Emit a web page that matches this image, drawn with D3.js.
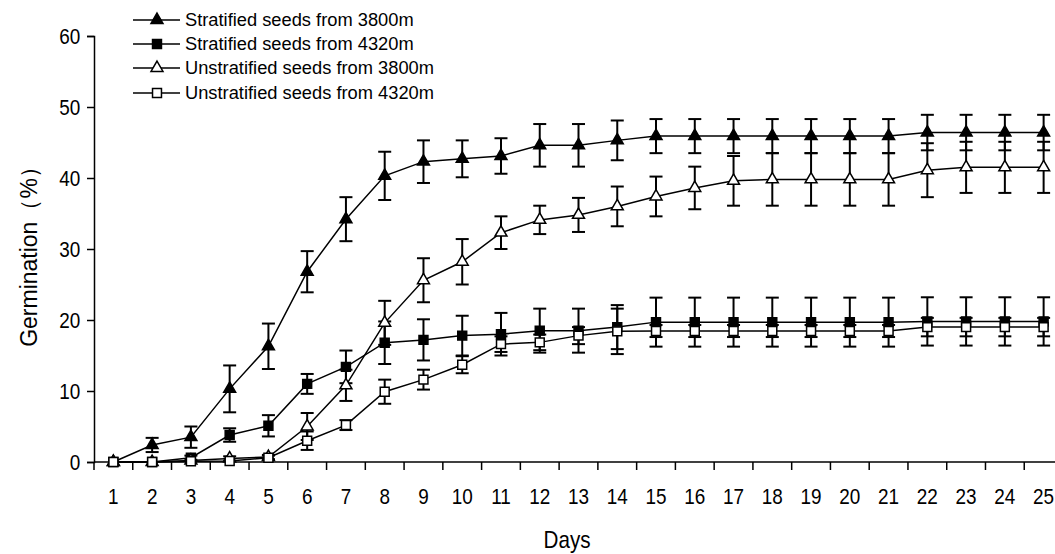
<!DOCTYPE html>
<html>
<head>
<meta charset="utf-8">
<script src="https://cdn.jsdelivr.net/npm/d3@7"></script>
<style>
  html, body { margin: 0; padding: 0; background: #fff; }
  svg { display: block; }
  text { font-family: "Liberation Sans", Arial, sans-serif; fill: #000; }
</style>
</head>
<body>
<svg id="chart" width="1055" height="554"></svg>
<script>
// ---- data ----
const days = d3.range(1, 26);
const yTicks = [0, 10, 20, 30, 40, 50, 60];

const seriesNames = [
  "Stratified seeds from 3800m",
  "Stratified seeds from 4320m",
  "Unstratified seeds from 3800m",
  "Unstratified seeds from 4320m"
];

const strat3800 = [0, 2.4, 3.5, 10.3, 16.3, 26.8, 34.2, 40.3, 42.3, 42.7, 43.1, 44.6, 44.6, 45.3, 45.9, 45.9, 45.9, 45.9, 45.9, 45.9, 45.9, 46.4, 46.4, 46.4, 46.4];
const strat3800Err = [0, 1.0, 1.5, 3.3, 3.2, 2.9, 3.1, 3.4, 3.0, 2.6, 2.5, 3.0, 3.0, 2.8, 2.4, 2.4, 2.4, 2.4, 2.4, 2.4, 2.4, 2.5, 2.5, 2.5, 2.5];

const strat4320 = [0, 0, 0.6, 3.8, 5.1, 11.0, 13.4, 16.8, 17.2, 17.8, 18.0, 18.5, 18.5, 19.0, 19.7, 19.7, 19.7, 19.7, 19.7, 19.7, 19.7, 19.8, 19.8, 19.8, 19.8];
const strat4320Err = [0, 0, 0.3, 0.95, 1.5, 1.4, 2.3, 3.0, 2.9, 2.8, 3.0, 3.1, 3.1, 3.1, 3.45, 3.45, 3.45, 3.45, 3.45, 3.45, 3.45, 3.4, 3.4, 3.4, 3.4];

const unstrat3800 = [0, 0, 0.2, 0.5, 0.7, 5.0, 10.8, 19.6, 25.6, 28.2, 32.3, 34.1, 34.8, 36.0, 37.4, 38.6, 39.6, 39.8, 39.8, 39.8, 39.8, 41.1, 41.5, 41.5, 41.5];
const unstrat3800Err = [0, 0, 0.2, 0.3, 0.3, 1.9, 2.2, 3.1, 3.1, 3.2, 2.3, 2.0, 2.4, 2.8, 2.8, 3.0, 3.5, 3.7, 3.7, 3.7, 3.7, 3.8, 3.6, 3.6, 3.6];

const unstrat4320 = [0, 0, 0.1, 0.15, 0.6, 3.0, 5.2, 9.9, 11.6, 13.7, 16.6, 16.85, 17.8, 18.4, 18.45, 18.45, 18.45, 18.45, 18.45, 18.45, 18.45, 19.0, 19.0, 19.0, 19.0];
const unstrat4320Err = [0, 0, 0, 0, 0.3, 1.3, 0.7, 1.7, 1.4, 1.2, 1.1, 1.1, 1.2, 3.2, 0.85, 0.85, 0.85, 0.85, 0.85, 0.85, 0.85, 1.3, 1.3, 1.3, 1.3];

const seriesValues = [strat3800, strat4320, unstrat3800, unstrat4320];
const seriesErrors = [strat3800Err, strat4320Err, unstrat3800Err, unstrat4320Err];
const seriesShapes = ["triangle", "square", "triangle", "square"];
const seriesFilled = [true, true, false, false];

// ---- layout ----
const svg = d3.select("#chart");
const plotLeft = 94, plotRight = 1063, plotTop = 36, plotBottom = 462;
const squeeze = 0.86; // axis text in the reference is taller than it is wide

const x = d3.scaleBand().domain(days).range([plotLeft, plotRight]).padding(0);
const xc = d => x(d) + x.bandwidth() / 2;
const y = d3.scaleLinear().domain([0, 60]).range([plotBottom, plotTop]);

// ---- axes ----
const yAxis = d3.axisLeft(y).tickValues(yTicks).tickSize(7).tickPadding(9);
const gy = svg.append("g").attr("transform", `translate(${plotLeft},0)`).call(yAxis);
gy.select(".domain").attr("stroke", "#000").attr("stroke-width", 1.5);
gy.selectAll(".tick line").attr("stroke", "#000").attr("stroke-width", 1.5);
gy.selectAll(".tick text")
  .style("font-size", "22px")
  .attr("font-family", "Liberation Sans, Arial, sans-serif")
  .attr("transform", `scale(${squeeze},1)`);

const xAxis = d3.axisBottom(x).tickSize(0).tickPadding(26);
const gx = svg.append("g").attr("transform", `translate(0,${plotBottom})`).call(xAxis);
gx.select(".domain").attr("stroke", "#000").attr("stroke-width", 1.5).attr("d", `M${plotLeft},0H${plotRight}`);
gx.selectAll(".tick text")
  .style("font-size", "22px")
  .attr("font-family", "Liberation Sans, Arial, sans-serif")
  .attr("transform", `scale(${squeeze},1)`);
// tick marks between categories
const boundaries = days.map(d => x(d)).concat([x(days[days.length - 1]) + x.bandwidth()]);
gx.selectAll("line.bt").data(boundaries).enter().append("line")
  .attr("class", "bt")
  .attr("x1", d => d).attr("x2", d => d)
  .attr("y1", 0).attr("y2", 8)
  .attr("stroke", "#000").attr("stroke-width", 1.5);

// axis titles
svg.append("text")
  .attr("transform", `translate(567,548) scale(${squeeze},1)`)
  .attr("text-anchor", "middle")
  .style("font-size", "24px")
  .text("Days");
svg.append("text")
  .attr("transform", `translate(37,251) rotate(-90)`)
  .attr("text-anchor", "middle")
  .style("font-size", "23px")
  .text("Germination（%）");

// ---- marks ----
const symTri = d3.symbol().type(d3.symbolTriangle).size(62);
const symSq = d3.symbol().type(d3.symbolSquare).size(80);
const line = d3.line().x((v, i) => xc(days[i])).y(v => y(v));

const plot = svg.append("g");
// lines
seriesValues.forEach(vals => {
  plot.append("path")
    .attr("d", line(vals))
    .attr("fill", "none")
    .attr("stroke", "#000")
    .attr("stroke-width", 1.5);
});
// error bars
const capW = 6.5;
seriesValues.forEach((vals, s) => {
  const errs = seriesErrors[s];
  const g = plot.append("g").attr("stroke", "#000").attr("stroke-width", 2);
  vals.forEach((v, i) => {
    const e = errs[i];
    if (!e || e < 0.25) return;
    const cx = xc(days[i]);
    const y1 = y(v + e), y2 = y(Math.max(0, v - e));
    g.append("line").attr("x1", cx).attr("x2", cx).attr("y1", y1).attr("y2", y2);
    g.append("line").attr("x1", cx - capW).attr("x2", cx + capW).attr("y1", y1).attr("y2", y1);
    g.append("line").attr("x1", cx - capW).attr("x2", cx + capW).attr("y1", y2).attr("y2", y2);
  });
});
// markers
seriesValues.forEach((vals, s) => {
  const sym = seriesShapes[s] === "triangle" ? symTri : symSq;
  plot.append("g").selectAll("path").data(vals).enter().append("path")
    .attr("d", sym())
    .attr("transform", (v, i) => `translate(${xc(days[i])},${y(v)})`)
    .attr("fill", seriesFilled[s] ? "#000" : "#fff")
    .attr("stroke", "#000")
    .attr("stroke-width", 1.5);
});

// ---- legend ----
const legend = svg.append("g");
const legendY = [20, 44, 68, 93];
seriesNames.forEach((name, s) => {
  const ly = legendY[s];
  legend.append("line")
    .attr("x1", 133).attr("x2", 180).attr("y1", ly).attr("y2", ly)
    .attr("stroke", "#000").attr("stroke-width", 1.5);
  const sym = seriesShapes[s] === "triangle" ? symTri : symSq;
  legend.append("path")
    .attr("d", sym())
    .attr("transform", `translate(157,${ly})`)
    .attr("fill", seriesFilled[s] ? "#000" : "#fff")
    .attr("stroke", "#000").attr("stroke-width", 1.5);
  legend.append("text")
    .attr("x", 185).attr("y", ly)
    .attr("dy", "0.35em")
    .style("font-size", "18.3px")
    .text(name);
});
</script>
</body>
</html>
